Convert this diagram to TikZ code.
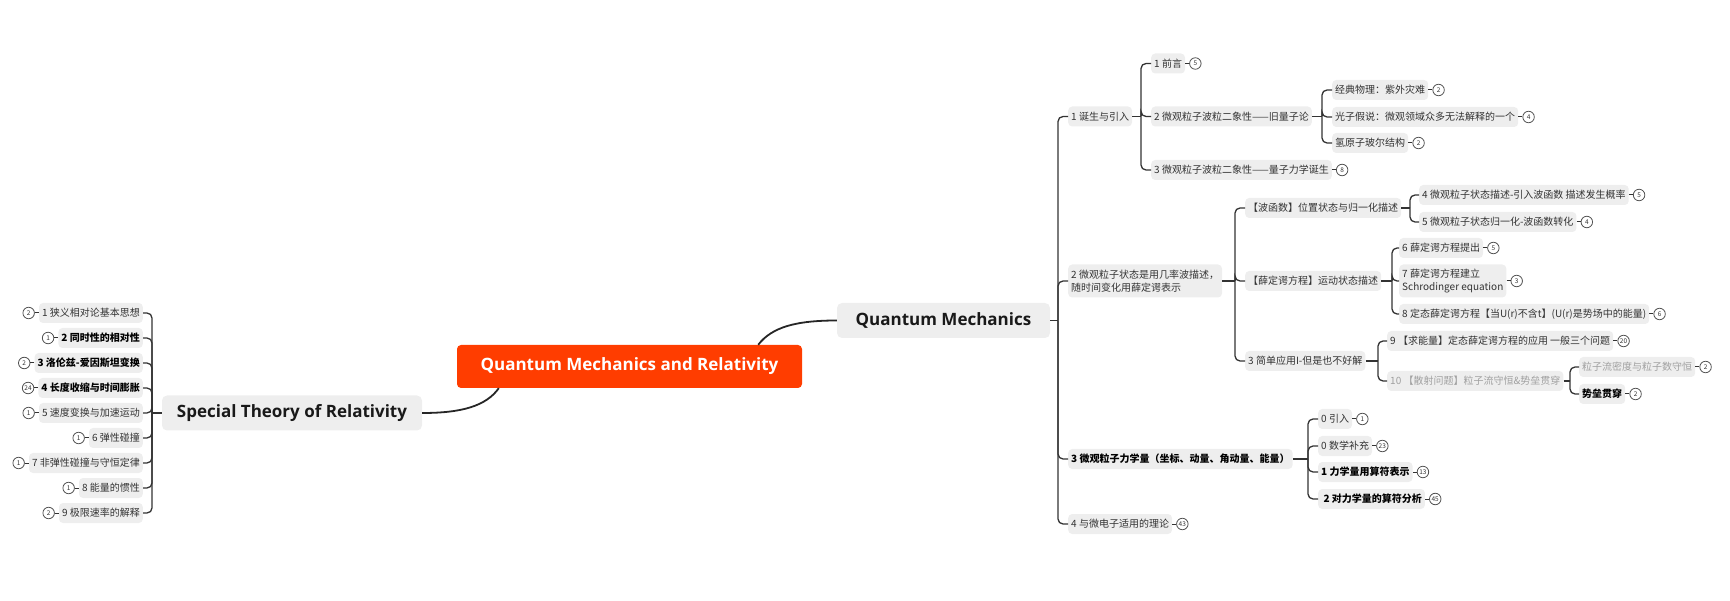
\documentclass[tikz,border=0pt]{standalone}
\usepackage{fontspec}
\setmainfont{Noto Sans CJK SC}
\newfontfamily\headfont{Open Sans}
\usetikzlibrary{calc}
\definecolor{boxgray}{HTML}{EEEEEE}
\definecolor{linec}{HTML}{333333}
\definecolor{txt}{HTML}{333333}
\definecolor{dimtxt}{HTML}{A0A0A0}
\definecolor{rootc}{HTML}{FF3D00}
\newcommand\badgeR[2]{\node[badge,anchor=west,xshift=4pt] (#1-b) at (#1.east) {#2}; \draw[blink] (#1.east) -- (#1-b.west);}
\newcommand\badgeL[2]{\node[badge,anchor=east,xshift=-4pt] (#1-b) at (#1.west) {#2}; \draw[blink] (#1.west) -- (#1-b.east);}
\begin{document}
\begin{tikzpicture}[x=1pt,y=-1pt,
  leaf/.style={fill=boxgray, rounded corners=4pt, inner xsep=3pt, inner ysep=0pt, minimum height=20pt,
    font=\fontsize{10}{12}\selectfont, text=txt},
  strong/.style={font=\fontsize{10}{12}\selectfont\bfseries, text=black},
  dim/.style={text=dimtxt},
  twoline/.style={align=left, minimum height=33pt, font=\fontsize{10}{13}\selectfont},
  topic/.style={fill=boxgray, rounded corners=5pt, minimum height=35pt, inner sep=0pt,
    font=\headfont\bfseries\fontsize{17}{20}\selectfont, text=black!90},
  root/.style={fill=rootc, rounded corners=4pt, minimum height=43pt, minimum width=345pt, inner sep=0pt,
    font=\headfont\bfseries\fontsize{17}{20}\selectfont, text=white},
  badge/.style={circle, draw=linec!85, line width=0.8pt, fill=white, minimum size=11.5pt, inner sep=0pt,
    font=\fontsize{6.5}{6.5}\selectfont, text=txt},
  blink/.style={draw=linec, line width=1pt},
  conn/.style={draw=linec, line width=1.3pt, rounded corners=5pt},
  mainconn/.style={draw=black!85, line width=1.8pt}
]
\useasboundingbox (0,0) rectangle (1730,601);

% main nodes
\node[root] (root) at (629.5,366.5) {Quantum Mechanics and Relativity};
\node[topic, minimum width=213pt] (qm) at (943.5,320.5) {Quantum Mechanics};
\node[topic, minimum width=260pt] (st) at (292,413) {Special Theory of Relativity};

\draw[mainconn] ($(root.north east)+(-44,0)$) .. controls (772,327) and (796,320.5) .. (qm.west);
\draw[mainconn] ($(root.south west)+(42,0)$) .. controls (486,406) and (462,413) .. (st.east);

% ---------- right side ----------
\node[leaf, anchor=west] (a1) at (1068,116.5) {1 诞生与引入};
\node[leaf, anchor=west, twoline] (a2) at (1068,281) {2 微观粒子状态是用几率波描述，\\随时间变化用薛定谔表示};
\node[leaf, strong, anchor=west] (a3) at (1068,459) {3 微观粒子力学量（坐标、动量、角动量、能量）\hspace{6pt}};
\node[leaf, anchor=west] (a4) at (1068,524) {4 与微电子适用的理论};
\badgeR{a4}{43}

\draw[conn] (qm.east) -- (1058,320.5);
\foreach \c in {a1,a2,a3,a4} \draw[conn] (1058,320.5) |- (\c.west);

% branch 1
\node[leaf, anchor=west] (a11) at (1151,63.5) {1 前言};
\node[leaf, anchor=west] (a12) at (1151,116.5) {2 微观粒子波粒二象性——旧量子论};
\node[leaf, anchor=west] (a13) at (1151,170) {3 微观粒子波粒二象性——量子力学诞生};
\badgeR{a11}{5}
\badgeR{a13}{8}
\draw[conn] (a1.east) -- (1141,116.5);
\foreach \c in {a11,a12,a13} \draw[conn] (1141,116.5) |- (\c.west);

\node[leaf, anchor=west] (a121) at (1332,90) {经典物理：紫外灾难};
\node[leaf, anchor=west] (a122) at (1332,117) {光子假说：微观领域众多无法解释的一个};
\node[leaf, anchor=west] (a123) at (1332,143) {氢原子玻尔结构};
\badgeR{a121}{2}
\badgeR{a122}{4}
\badgeR{a123}{2}
\draw[conn] (a12.east) -- (1322,116.5);
\foreach \c in {a121,a122,a123} \draw[conn] (1322,116.5) |- (\c.west);

% branch 2
\node[leaf, anchor=west] (a21) at (1245,208) {【波函数】位置状态与归一化描述};
\node[leaf, anchor=west] (a22) at (1245,281) {【薛定谔方程】运动状态描述};
\node[leaf, anchor=west] (a23) at (1245,361) {3 简单应用I-但是也不好解};
\draw[conn] (a2.east) -- (1235,281);
\foreach \c in {a21,a22,a23} \draw[conn] (1235,281) |- (\c.west);

\node[leaf, anchor=west] (a211) at (1419,195) {4 微观粒子状态描述-引入波函数 描述发生概率};
\node[leaf, anchor=west] (a212) at (1419,222) {5 微观粒子状态归一化-波函数转化};
\badgeR{a211}{5}
\badgeR{a212}{4}
\draw[conn] (a21.east) -- (1410,208);
\foreach \c in {a211,a212} \draw[conn] (1410,208) |- (\c.west);

\node[leaf, anchor=west] (a221) at (1399,248) {6 薛定谔方程提出};
\node[leaf, anchor=west, twoline] (a222) at (1399,281) {7 薛定谔方程建立\\Schrodinger equation};
\node[leaf, anchor=west] (a223) at (1399,314) {8 定态薛定谔方程【当U(r)不含t】(U(r)是势场中的能量)};
\badgeR{a221}{5}
\badgeR{a222}{3}
\badgeR{a223}{6}
\draw[conn] (a22.east) -- (1392,281);
\foreach \c in {a221,a222,a223} \draw[conn] (1392,281) |- (\c.west);

\node[leaf, anchor=west] (a231) at (1387,341) {9 【求能量】定态薛定谔方程的应用 一般三个问题\hspace{12pt}};
\node[leaf, dim, anchor=west] (a232) at (1387,381) {10 【散射问题】粒子流守恒\&势垒贯穿};
\badgeR{a231}{20}
\draw[conn] (a23.east) -- (1378,361);
\foreach \c in {a231,a232} \draw[conn] (1378,361) |- (\c.west);

\node[leaf, dim, anchor=west] (a2321) at (1579,367) {粒子流密度与粒子数守恒};
\node[leaf, strong, anchor=west] (a2322) at (1579,394) {势垒贯穿};
\badgeR{a2321}{2}
\badgeR{a2322}{2}
\draw[conn] (a232.east) -- (1570,381);
\foreach \c in {a2321,a2322} \draw[conn] (1570,381) |- (\c.west);

% branch 3
\node[leaf, anchor=west] (a31) at (1318,419) {0 引入};
\node[leaf, anchor=west] (a32) at (1318,446) {0 数学补充};
\node[leaf, strong, anchor=west] (a33) at (1318,472) {1 力学量用算符表示};
\node[leaf, strong, anchor=west] (a34) at (1318,499) {\ 2 对力学量的算符分析};
\badgeR{a31}{1}
\badgeR{a32}{23}
\badgeR{a33}{13}
\badgeR{a34}{45}
\draw[conn] (a3.east) -- (1308,459);
\foreach \c in {a31,a32,a33,a34} \draw[conn] (1308,459) |- (\c.west);

% ---------- left side ----------
\node[leaf, anchor=east] (b1) at (143,313) {1 狭义相对论基本思想};
\node[leaf, strong, anchor=east] (b2) at (143,338) {2 同时性的相对性};
\node[leaf, strong, anchor=east] (b3) at (143,363) {3 洛伦兹-爱因斯坦变换};
\node[leaf, strong, anchor=east] (b4) at (143,388) {4 长度收缩与时间膨胀};
\node[leaf, anchor=east] (b5) at (143,413) {5 速度变换与加速运动};
\node[leaf, anchor=east] (b6) at (143,438) {6 弹性碰撞};
\node[leaf, anchor=east] (b7) at (143,463) {7 非弹性碰撞与守恒定律};
\node[leaf, anchor=east] (b8) at (143,488) {8 能量的惯性};
\node[leaf, anchor=east] (b9) at (143,513) {9 极限速率的解释};
\badgeL{b1}{2}
\badgeL{b2}{1}
\badgeL{b3}{2}
\badgeL{b4}{24}
\badgeL{b5}{1}
\badgeL{b6}{1}
\badgeL{b7}{1}
\badgeL{b8}{1}
\badgeL{b9}{2}
\draw[conn] (st.west) -- (152,413);
\foreach \c in {b1,b2,b3,b4,b5,b6,b7,b8,b9} \draw[conn] (152,413) |- (\c.east);
\end{tikzpicture}
\end{document}
